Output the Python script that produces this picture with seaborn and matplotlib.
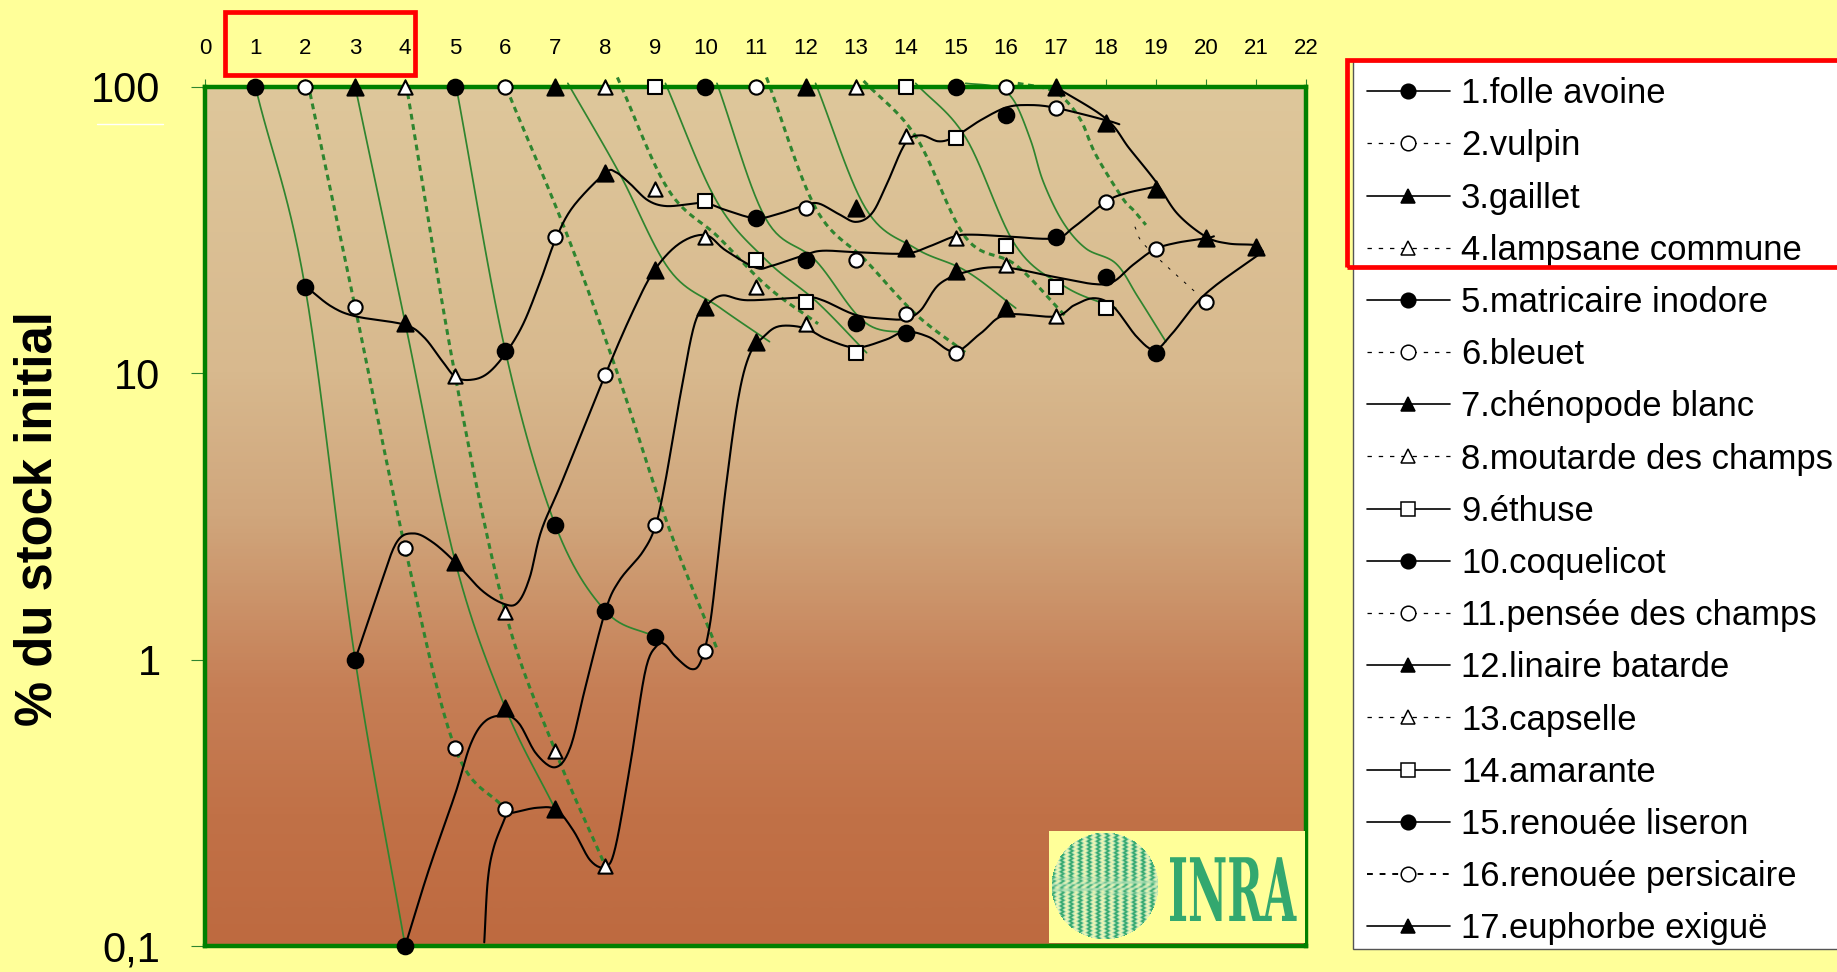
import numpy as np
import pandas as pd
import matplotlib
matplotlib.use('Agg')
import matplotlib.pyplot as plt
import matplotlib.patheffects as pe
from matplotlib.colors import LinearSegmentedColormap
from matplotlib.lines import Line2D
from matplotlib.patches import Rectangle
from matplotlib.transforms import Affine2D
import seaborn as sns

W, H = 1837, 972

species = ['1.folle avoine', '2.vulpin', '3.gaillet', '4.lampsane commune', '5.matricaire inodore',
           '6.bleuet', '7.chénopode blanc', '8.moutarde des champs', '9.éthuse', '10.coquelicot',
           '11.pensée des champs', '12.linaire batarde', '13.capselle', '14.amarante',
           '15.renouée liseron', '16.renouée persicaire', '17.euphorbe exiguë']
kinds = ['bc', 'wc', 'bt', 'wt', 'bc', 'wc', 'bt', 'wt', 'ws', 'bc', 'wc', 'bt', 'wt', 'ws', 'bc', 'wc', 'bt']

# % of initial stock for each species, 1 to 4 years after the start
year1 = [20, 17, 15, 9.8, 12, 30, 50, 44, 40, 34.8, 37.8, 37.7, 67.3, 66.6, 80, 84.7, 75]
year2 = [1, 2.45, 2.2, 1.47, 2.95, 9.9, 23, 30, 24.8, 24.8, 24.8, 27.3, 29.8, 27.9, 30, 39.7, 44.2]
year3 = [0.1, 0.49, 0.68, 0.48, 1.48, 2.95, 17, 20, 17.8, 15, 16.1, 22.8, 23.9, 20, 21.7, 27.1, 29.6]
year4 = [np.nan, 0.3, 0.3, 0.19, 1.2, 1.07, 12.9, 14.9, 11.8, 13.8, 11.8, 16.9, 15.8, 16.9, 11.8, 17.8, 27.7]

# x shift of the green decay lines and where they start at the top
green_shift = [0, 0, 0, 0, 0, 0.25, 0.28, 0.25, 0.22, 0.2, 0.2, 0.2, 0.2, 0.2, 0.2]
green_top_x = [1.04, 2.1, 3.03, 4.05, 5.03, 6.1, 7.25, 8.24, 9.2, 10.23, 11.22, 12.2, 13.16, 14.2, 15.2]
green_top_y = [95, 95, 95, 95, 98, 92, 103, 108, 103, 103, 108, 103, 105, 103, 103]
green15_x = [15.2, 15.8, 16.16, 16.5, 16.75, 17.14, 17.6, 18.2, 18.64, 19.2]
green15_y = [103, 100, 89.8, 65, 46.7, 33.8, 27.3, 24.2, 18.5, 12.9]
green16_x = [16.24, 16.83, 17.14, 17.5, 17.8, 18.33, 18.56, 18.8]
green16_y = [103, 98.6, 92, 76.6, 58, 41, 37, 33]
thin_x = [18.58, 18.78, 19.68, 19.88]
thin_y = [32.5, 28, 20, 18.7]

# the black curves do not run exactly through the markers
curve1_x = [2.03, 2.53, 3.02, 3.98, 4.37, 4.73, 5.01, 5.33, 5.65, 6, 6.36, 6.71, 7, 7.35, 7.99, 8.2, 8.49, 8.84,
            9.2, 9.7, 10, 10.4, 11, 11.47, 11.98, 12.26, 12.65, 13, 13.32, 13.6, 13.99, 14.3, 14.66, 14.98, 15.5,
            16, 16.43, 16.98, 18, 18.27]
curve1_y = [20, 17.1, 15.8, 14.8, 13.4, 11.1, 9.7, 9.5, 10, 11.7, 14.9, 21.2, 29.2, 38.1, 49.9, 50.5, 46, 40.3,
            38.4, 39, 39.4, 37.2, 34.8, 36.1, 38.6, 39.2, 36.1, 33.8, 36.1, 44.8, 63.4, 67.8, 64.6, 67, 76.6,
            84.7, 86.5, 84.7, 76.6, 74.1]
tail_x = [17, 18, 18.47, 19, 19.43, 20, 20.45, 21, 21.14]
tail_y = [100, 77.6, 61, 46.7, 36.1, 30, 28.4, 28, 26.6]
curve2_x = [3, 3.49, 3.83, 4.17, 4.55, 5, 5.54, 6, 6.26, 6.49, 6.72, 7.14, 8, 8.56, 8.98, 9.48, 10, 10.4, 11,
            11.31, 11.98, 12.34, 13, 13.99, 14.46, 14.98, 15.33, 16, 16.98, 17.37, 18, 18.39, 18.98]
curve2_y = [1, 1.79, 2.57, 2.76, 2.57, 2.19, 1.74, 1.56, 1.59, 1.94, 2.82, 4.21, 9.9, 16.6, 22.9, 28.4, 30.4,
            26.9, 23.4, 23.7, 25.9, 26.8, 26.5, 26.2, 27.7, 30.1, 30.5, 30.1, 29.6, 32.5, 39.7, 42.5, 44.8]
curve3_x = [4, 4.47, 5, 5.31, 5.61, 6, 6.28, 6.62, 7, 7.3, 7.6, 8, 8.28, 8.74, 9, 9.2, 9.48, 9.77, 10, 10.33,
            10.84, 11.98, 12.34, 13, 13.6, 13.99, 14.3, 14.69, 15.33, 16, 16.98, 17.77, 18.15, 18.54, 18.98,
            19.43, 20, 20.16]
curve3_y = [0.1, 0.184, 0.34, 0.508, 0.612, 0.638, 0.597, 0.469, 0.421, 0.494, 0.8, 1.48, 1.89, 2.37, 2.93, 4.21,
            8.07, 14.6, 17.1, 18.7, 18, 18.4, 18, 16, 15.5, 15.5, 16.6, 20.6, 22.9, 23.4, 21.7, 20.5, 20.9, 23.9,
            27.1, 28.6, 29.6, 30.1]
stub_x = [5.58, 5.65, 5.77, 6]
stub_y = [0.103, 0.169, 0.221, 0.282]
curve4_x = [6.15, 6.64, 7.02, 7.36, 7.7, 8, 8.2, 8.5, 8.8, 9.03, 9.19, 9.41, 9.72, 9.91, 10.09, 10.25, 10.4, 10.65,
            10.88, 11.16, 11.47, 11.98, 12.41, 13, 13.6, 13.99, 14.46, 14.98, 15.5, 16, 16.98, 17.37, 17.77,
            18.15, 18.62, 18.98, 19.33, 20, 21.14]
curve4_y = [0.292, 0.304, 0.299, 0.253, 0.199, 0.189, 0.221, 0.433, 0.916, 1.12, 1.13, 1.02, 0.927, 0.99, 1.33,
            2.27, 3.9, 8.07, 11.6, 13.4, 14.6, 14.4, 13.2, 12.3, 13.1, 14, 13.4, 11.9, 13.8, 16, 15.8, 17.3,
            18.3, 17.1, 13.4, 12.1, 13.8, 19, 26.6]

x_ticks = list(range(23))
y_ticks = [0.1, 1, 10, 100]
y_labels = ['0,1', '1', '10', '100']

GREEN = '#008000'
LINE_GREEN = '#2f852f'
LOGO = '#33a86f'
YELLOW = '#ffff99'


def smooth(x, y, n=14):
    # catmull-rom through the knots, in x / log y
    px = np.array(x, dtype=float)
    py = np.log10(np.array(y, dtype=float))
    px = np.r_[2 * px[0] - px[1], px, 2 * px[-1] - px[-2]]
    py = np.r_[2 * py[0] - py[1], py, 2 * py[-1] - py[-2]]
    t = np.linspace(0, 1, n, endpoint=False)[:, None]
    out = []
    for i in range(1, len(px) - 2):
        p = np.c_[px[i - 1:i + 3], py[i - 1:i + 3]]
        out.append(0.5 * (2 * p[1] + (p[2] - p[0]) * t + (2 * p[0] - 5 * p[1] + 4 * p[2] - p[3]) * t ** 2
                          + (3 * p[1] - p[0] - 3 * p[2] + p[3]) * t ** 3))
    out.append(np.array([[px[-2], py[-2]]]))
    out = np.vstack(out)
    return out[:, 0], 10 ** out[:, 1]


def curve_frame(curves):
    rows = []
    for i, (x, y) in enumerate(curves):
        sx, sy = smooth(x, y)
        rows.append(pd.DataFrame({'x': sx, 'y': sy, 'curve': i}))
    return pd.concat(rows, ignore_index=True)


class Squeeze(pe.AbstractPathEffect):
    # the INRA lettering is much narrower than any installed font
    def __init__(self, sx, x0):
        super().__init__()
        self.sx, self.x0 = sx, x0

    def draw_path(self, renderer, gc, tpath, affine, rgbFace=None):
        squeeze = Affine2D().translate(-self.x0, 0).scale(self.sx, 1).translate(self.x0, 0)
        renderer.draw_path(gc, tpath, affine + squeeze, rgbFace)


sns.set_style('white', {'text.color': 'black', 'xtick.color': 'black', 'ytick.color': 'black'})
plt.rcParams['font.family'] = ['Liberation Sans', 'DejaVu Sans']

fig = plt.figure(figsize=(W / 100, H / 100), dpi=100, facecolor=YELLOW)
ax = fig.add_axes([205 / W, 1 - 946 / H, (1306 - 205) / W, (946 - 87) / H])
ax.set_facecolor('#c07048')

# background gradient
cmap = LinearSegmentedColormap.from_list('bg', [(0, '#dec79b'), (0.33, '#d8b98e'), (0.5, '#d0a67c'),
                                                (0.7, '#c67f56'), (0.85, '#c17147'), (1, '#be6a40')])
ax.imshow(np.linspace(0, 1, 256)[:, None], cmap=cmap, aspect='auto', extent=(0, 1, 0, 1),
          transform=ax.transAxes, zorder=0, interpolation='bilinear')

# green decay lines, one per species
green_solid, green_dash = [], []
all_years = [year1, year2, year3, year4]
for i in range(15):
    k = i + 1
    vals = [year[i] for year in all_years]
    xs = [green_top_x[i]] + [k + j + 1 + green_shift[i] for j, v in enumerate(vals) if not np.isnan(v)]
    ys = [green_top_y[i]] + [v for v in vals if not np.isnan(v)]
    if i == 14:
        xs, ys = green15_x, green15_y
    if kinds[i][0] == 'b' or kinds[i] == 'ws':
        green_solid.append((xs, ys))
    else:
        green_dash.append((xs, ys))
green_dash.append((green16_x, green16_y))

sns.lineplot(data=curve_frame(green_solid), x='x', y='y', units='curve', estimator=None, sort=False,
             color=LINE_GREEN, linewidth=1.25, clip_on=False, legend=False, ax=ax, zorder=2)
sns.lineplot(data=curve_frame(green_dash), x='x', y='y', units='curve', estimator=None, sort=False,
             color=LINE_GREEN, linewidth=2.2, linestyle=(0, (1.9, 1.5)), clip_on=False, legend=False, ax=ax, zorder=2)
sns.lineplot(data=curve_frame([(thin_x, thin_y)]), x='x', y='y', units='curve', estimator=None, sort=False,
             color='black', linewidth=0.7, linestyle=(0, (3, 8)), legend=False, ax=ax, zorder=3)

# black curves
black = [(curve1_x, curve1_y), (tail_x, tail_y), (curve2_x, curve2_y), (curve3_x, curve3_y),
         (stub_x, stub_y), (curve4_x, curve4_y)]
sns.lineplot(data=curve_frame(black), x='x', y='y', units='curve', estimator=None, sort=False,
             color='black', linewidth=1.5, clip_on=False, legend=False, ax=ax, zorder=4)

# markers
rows = []
for i, kind in enumerate(kinds):
    k = i + 1
    rows.append({'x': k, 'y': 100, 'kind': kind})
    for j, year in enumerate(all_years):
        if not np.isnan(year[i]):
            rows.append({'x': k + j + 1, 'y': year[i], 'kind': kind})
marks = pd.DataFrame(rows)

styles = {'bc': ('o', 'black', 125), 'wc': ('o', 'white', 105), 'bt': ('^', 'black', 135),
          'wt': ('^', 'white', 105), 'ws': ('s', 'white', 95)}
for kind, (marker, face, size) in styles.items():
    sns.scatterplot(data=marks[marks['kind'] == kind], x='x', y='y', marker=marker, color=face,
                    edgecolor='black', linewidth=1.5, s=size, clip_on=False, legend=False, ax=ax, zorder=5)

# axes
ax.set_yscale('log')
ax.set_xlim(0, 22)
ax.set_ylim(0.1, 100)
ax.set(xlabel='', ylabel='')
ax.set_xticks(x_ticks)
ax.set_xticklabels([str(v) for v in x_ticks], fontsize=16)
ax.set_yticks(y_ticks)
ax.set_yticklabels(y_labels, fontsize=30, color='black')
ax.minorticks_off()
ax.tick_params(axis='x', top=True, bottom=False, labeltop=True, labelbottom=False, length=6, width=0.8,
               color=LINE_GREEN, pad=14.5)
ax.tick_params(axis='y', left=True, length=10, width=0.8, color=LINE_GREEN, pad=22)
for side in ax.spines.values():
    side.set_color(GREEN)
    side.set_linewidth(3.2)
    side.set_visible(True)
    side.set_zorder(3)

fig.text(38 / W, 1 - 519 / H, '% du stock initial', rotation=90, fontsize=36.5, fontweight='bold',
         ha='center', va='center')
# stray white rule under the 100 label
fig.add_artist(Line2D([97 / W, 163 / W], [1 - 124 / H, 1 - 124 / H], color='white', linewidth=1.0))

# logo, bottom right of the plot
fig.add_artist(Rectangle((1049 / W, 1 - 943 / H), 256 / W, 112 / H, transform=fig.transFigure,
                         facecolor=YELLOW, edgecolor='none', zorder=6))
logo_ax = fig.add_axes([1050 / W, 1 - 941 / H, 110 / W, 110 / H], zorder=7)
logo_ax.axis('off')
gx, gy = np.meshgrid(np.linspace(-1, 1, 110), np.linspace(-1, 1, 110))
wave = gx + 0.018 * np.sin(gy * 90)
band = np.exp(-(gy / 0.14) ** 2)
stripes = np.sin(wave * 38) * (1 - 0.6 * band) + 0.5 * band * np.sin(gy * 60 + gx * 40)
stripes = np.ma.masked_where(gx ** 2 + gy ** 2 > 0.96, stripes)
logo_ax.imshow(stripes, cmap=LinearSegmentedColormap.from_list('logo', ['#eef5b5', '#a9dcb0', LOGO]),
               interpolation='nearest')
inra = fig.text(1168 / W, 1 - 921 / H, 'INRA', fontsize=63, fontweight='bold', family='DejaVu Serif',
                color=LOGO, ha='left', va='baseline', zorder=8)
inra.set_path_effects([Squeeze(0.49, 1168)])

# legend
handles = []
for name, kind in zip(species, kinds):
    marker, face, _ = styles[kind]
    if kind in ('bc', 'bt', 'ws'):
        style, width = '-', 1.2
    elif name.startswith('16'):
        style, width = (0, (3, 3.5)), 1.4
    else:
        style, width = (0, (3.5, 5.5)), 0.9
    handles.append(Line2D([], [], color='black', linestyle=style, linewidth=width, marker=marker, markersize=10.5,
                          markerfacecolor=face, markeredgecolor='black', markeredgewidth=1.1, label=name))
fig.add_artist(Rectangle((1353 / W, 1 - 949 / H), 520 / W, 888 / H, transform=fig.transFigure,
                         facecolor='white', edgecolor='#555555', linewidth=1.0, zorder=8.5))
legend = fig.legend(handles=handles, loc='upper left', bbox_to_anchor=(1353 / W, 1 - 63.4 / H),
                    bbox_transform=fig.transFigure, fontsize=24.9, frameon=False, borderaxespad=0, borderpad=0.4,
                    handlelength=2.4, handletextpad=0.32, labelspacing=0.555)
legend.set_zorder(9)

# red highlight boxes
for x0, y0, x1, y1 in [(225, 12.5, 415, 75), (1347, 60.5, 1860, 267)]:
    fig.add_artist(Rectangle((x0 / W, 1 - y1 / H), (x1 - x0) / W, (y1 - y0) / H, transform=fig.transFigure,
                             facecolor='none', edgecolor='#ff0000', linewidth=3.4, zorder=10, clip_on=False))

fig.savefig('out.png', dpi=100, facecolor=YELLOW)
